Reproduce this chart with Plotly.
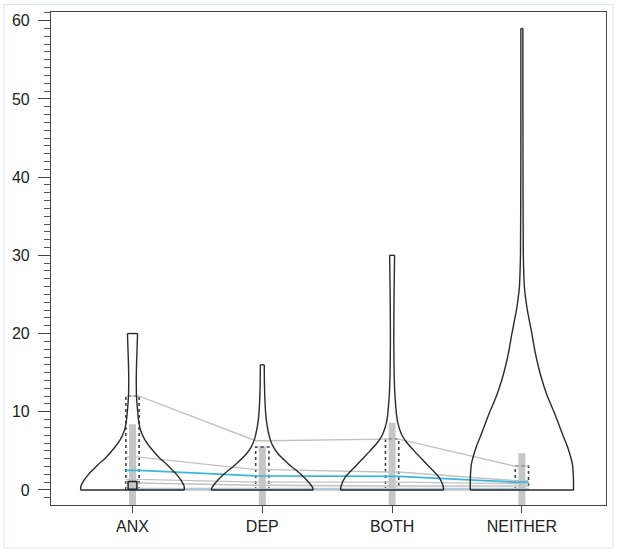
import plotly.graph_objects as go

# ---- data ----
categories = ["ANX", "DEP", "BOTH", "NEITHER"]

# bean (density) outlines: value levels and half-widths (x-axis units)
anx_y = [0, 0.5, 1.15, 2.0, 2.4, 3.3, 4.1, 5.4, 6.5, 7.5, 8.5, 10, 12, 14, 16, 18, 20]
anx_w = [0.400, 0.397, 0.377, 0.339, 0.316, 0.262, 0.208, 0.139, 0.092, 0.065, 0.050, 0.040, 0.031, 0.029, 0.031, 0.035, 0.039]

dep_y = [0, 0.3, 0.9, 2.0, 3.3, 4.6, 5.5, 6.5, 8.8, 10.5, 12, 14, 16]
dep_w = [0.393, 0.388, 0.362, 0.297, 0.204, 0.123, 0.085, 0.060, 0.032, 0.023, 0.019, 0.016, 0.015]

both_y = [0, 0.5, 1.6, 2.85, 4, 5, 6, 7.1, 8.8, 10.5, 13, 19, 25, 30]
both_w = [0.397, 0.393, 0.362, 0.293, 0.227, 0.170, 0.116, 0.073, 0.041, 0.029, 0.019, 0.013, 0.015, 0.019]

neither_y = [0, 1.6, 3.3, 5.4, 7, 9.7, 12, 13.9, 15.5, 17.8, 20, 21.6, 23, 24.2, 26, 28, 30, 40, 50, 59]
neither_w = [0.398, 0.397, 0.389, 0.354, 0.316, 0.254, 0.196, 0.158, 0.131, 0.100, 0.077, 0.058, 0.042, 0.031, 0.019, 0.014, 0.011, 0.0085, 0.0077, 0.0077]

bean_y = [anx_y, dep_y, both_y, neither_y]
bean_w = [anx_w, dep_w, both_w, neither_w]

# dense strip of observations (top of the grey bar)
strip_top = [8.4, 5.6, 8.6, 4.7]
# dotted box upper edge
box_top = [12, 5.5, 6.5, 3.05]
# quantile / summary lines across groups
q_upper = [12, 6.3, 6.5, 3.05]
q_mid = [4.2, 2.6, 2.3, 1.2]
mean_line = [2.5, 1.8, 1.75, 1.0]
q_low1 = [1.35, 1.0, 1.0, 0.8]
q_low2 = [0.9, 0.6, 0.5, 0.5]
q_min = [0.1, 0.1, 0.1, 0.1]
# small solid box (ANX only)
anx_box = [0.1, 1.1]

YMIN, YMAX = -1.92, 61.11

fig = go.Figure()
pos = [1, 2, 3, 4]

# grey strips
for p, t in zip(pos, strip_top):
    fig.add_trace(go.Scatter(x=[p, p], y=[YMIN, t], mode="lines",
                             line=dict(color="#c6c6c6", width=7), hoverinfo="skip"))

# dotted boxes
box_half = 0.051
for p, t in zip(pos, box_top):
    fig.add_trace(go.Scatter(x=[p - box_half, p - box_half, p + box_half, p + box_half],
                             y=[0, t, t, 0], mode="lines",
                             line=dict(color="#3a4450", width=1.6, dash="dot"), hoverinfo="skip"))

def across(vals):
    xs, ys = [], []
    for p, v in zip(pos, vals):
        xs += [p - box_half, p + box_half]
        ys += [v, v]
    return xs, ys

for vals in [q_upper, q_mid, q_low1, q_low2]:
    xs, ys = across(vals)
    fig.add_trace(go.Scatter(x=xs, y=ys, mode="lines",
                             line=dict(color="#c2c2c2", width=1.4), hoverinfo="skip"))

xs, ys = across(q_min)
fig.add_trace(go.Scatter(x=xs, y=ys, mode="lines",
                         line=dict(color="#b8c8d4", width=3), hoverinfo="skip"))
xs, ys = across(mean_line)
fig.add_trace(go.Scatter(x=xs, y=ys, mode="lines",
                         line=dict(color="#3db5d8", width=1.8), hoverinfo="skip"))

# bean outlines: smooth sides, straight top and base
outline = dict(color="#2b2b2b", width=1.4)
for p, yy, ww in zip(pos, bean_y, bean_w):
    left_x = [p - w for w in ww]
    right_x = [p + w for w in ww]
    for sx in (left_x, right_x):
        fig.add_trace(go.Scatter(x=sx, y=yy, mode="lines",
                                 line=dict(outline, shape="spline", smoothing=0.7),
                                 hoverinfo="skip"))
    fig.add_trace(go.Scatter(x=[left_x[-1], right_x[-1]], y=[yy[-1], yy[-1]], mode="lines",
                             line=outline, hoverinfo="skip"))
    fig.add_trace(go.Scatter(x=[left_x[0], right_x[0]], y=[yy[0], yy[0]], mode="lines",
                             line=outline, hoverinfo="skip"))

# small solid box on ANX
fig.add_trace(go.Scatter(x=[1 - 0.034, 1 - 0.034, 1 + 0.034, 1 + 0.034, 1 - 0.034],
                         y=[anx_box[0], anx_box[1], anx_box[1], anx_box[0], anx_box[0]],
                         mode="lines", line=dict(color="#222", width=1.5), hoverinfo="skip"))

font = dict(family="Liberation Sans, Arial, sans-serif", size=16, color="#222")
fig.update_layout(
    width=618, height=553,
    margin=dict(l=51, r=12, t=12, b=48),
    plot_bgcolor="white", paper_bgcolor="white",
    showlegend=False,
    font=font,
    xaxis=dict(range=[0.372, 4.648], tickmode="array", tickvals=pos, ticktext=categories,
               showline=True, mirror=True, linecolor="#444", linewidth=1.2,
               ticks="outside", ticklen=7, tickcolor="#444", showgrid=False, zeroline=False,
               tickfont=font),
    yaxis=dict(range=[YMIN, YMAX], tick0=0, dtick=10,
               showline=True, mirror=True, linecolor="#444", linewidth=1.2,
               ticks="outside", ticklen=12, tickcolor="#444", showgrid=False, zeroline=False,
               ticklabelstandoff=5,
               minor=dict(dtick=1, tick0=0, ticks="outside", ticklen=6, tickcolor="#555", showgrid=False),
               tickfont=font),
    shapes=[dict(type="rect", xref="paper", yref="paper",
                 x0=-0.0847, x1=1.0126, y0=-0.087, y1=1.015,
                 line=dict(color="#dbe5ee", width=1), layer="below")],
)

fig.write_html("out.html", config={"displayModeBar": False},
               post_script="document.body.style.margin='0px';")
